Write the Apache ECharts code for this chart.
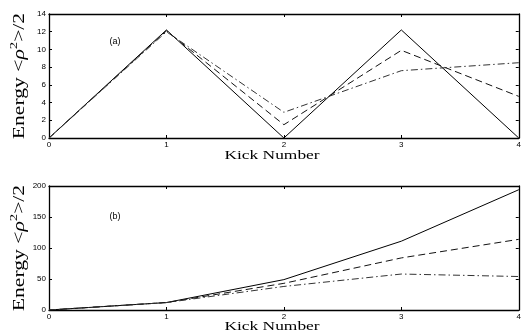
<!DOCTYPE html>
<html><head><meta charset="utf-8">
<script src="https://cdn.jsdelivr.net/npm/echarts@6/dist/echarts.min.js"></script>
<style>html,body{margin:0;padding:0;background:#fff}#c{width:524px;height:332px}</style>
</head><body><div id="c"></div>
<script>
const kicks = [0, 1, 2, 3, 4];
const aSolid = [0, 12.2, 0, 12.2, 0];
const aDashed = [0, 12.1, 1.5, 9.9, 4.7];
const aDashDot = [0, 12.0, 2.9, 7.6, 8.5];
const bSolid = [0, 12, 49, 111, 194];
const bDashed = [0, 12, 43, 84, 114];
const bDashDot = [0, 12, 38, 58, 54];
const xTicks = [0, 1, 2, 3, 4];

const chart = echarts.init(document.getElementById('c'));
const pairs = ys => kicks.map((k, i) => [k, ys[i]]);
const tickFont = {fontSize: 8, color: '#000', fontFamily: 'Liberation Sans'};
const line = {color: '#000', width: 1.3};
function xAx(grid, pos, labels) {
  return {type: 'value', gridIndex: grid, position: pos, min: 0, max: 4, interval: 1,
    axisLine: {show: true, onZero: false, lineStyle: line},
    axisTick: {show: true, inside: true, length: 3, lineStyle: {color: '#000', width: 1}},
    axisLabel: labels ? Object.assign({margin: 3}, tickFont) : {show: false},
    splitLine: {show: false}};
}
function yAx(grid, pos, max, iv, labels) {
  return {type: 'value', gridIndex: grid, position: pos, min: 0, max: max, interval: iv,
    axisLine: {show: true, onZero: false, lineStyle: line},
    axisTick: {show: true, inside: true, length: 3, lineStyle: {color: '#000', width: 1}},
    axisLabel: labels ? Object.assign({margin: 3}, tickFont) : {show: false},
    splitLine: {show: false}};
}
function ser(xi, yi, data, type, color) {
  return {type: 'line', xAxisIndex: xi, yAxisIndex: yi, data: pairs(data), symbol: 'none',
    lineStyle: {color: color, width: 1, type: type}, silent: true, animation: false};
}
const solid = 'solid', dashed = [7, 4], dashDot = [7, 3, 1.5, 3];
const yTitle = (cx, cy) => ({type: 'text', x: cx, y: cy, rotation: Math.PI / 2, scaleX: 1.35,
  style: {text: 'Energy <{s|ρ}{sup|2}>/2', fontFamily: 'Liberation Serif', fontSize: 16,
    fill: '#000', align: 'center', verticalAlign: 'middle',
    rich: {s: {fontFamily: 'Liberation Serif', fontSize: 16, fontStyle: 'italic'},
           sup: {fontFamily: 'Liberation Serif', fontSize: 11, verticalAlign: 'top', padding: [0, 0, 12, 0]}}}});
const xTitle = (cx, cy) => ({type: 'text', x: cx, y: cy, scaleX: 1.45,
  style: {text: 'Kick Number', fontFamily: 'Liberation Serif', fontSize: 12, fill: '#000',
    align: 'center', verticalAlign: 'middle'}});
chart.setOption({
  animation: false,
  grid: [{left: 49, right: 2, top: 14, height: 124}, {left: 49, right: 2, top: 186, height: 124}],
  xAxis: [xAx(0, 'bottom', true), xAx(0, 'top', false), xAx(1, 'bottom', true), xAx(1, 'top', false)],
  yAxis: [yAx(0, 'left', 14, 2, true), yAx(0, 'right', 14, 2, false), yAx(1, 'left', 200, 50, true), yAx(1, 'right', 200, 50, false)],
  series: [
    ser(0, 0, aSolid, solid, '#000'), ser(0, 0, aDashed, dashed, '#111'), ser(0, 0, aDashDot, dashDot, '#333'),
    ser(2, 2, bSolid, solid, '#000'), ser(2, 2, bDashed, dashed, '#111'), ser(2, 2, bDashDot, dashDot, '#333')
  ],
  graphic: [
    yTitle(20, 76), yTitle(20, 248), xTitle(272, 156), xTitle(272, 327),
    {type: 'text', x: 115, y: 42, style: {text: '(a)', fontSize: 9, fontFamily: 'Liberation Sans', fill: '#000', align: 'center', verticalAlign: 'middle'}},
    {type: 'text', x: 115, y: 217, style: {text: '(b)', fontSize: 9, fontFamily: 'Liberation Sans', fill: '#000', align: 'center', verticalAlign: 'middle'}}
  ]
});
</script></body></html>
